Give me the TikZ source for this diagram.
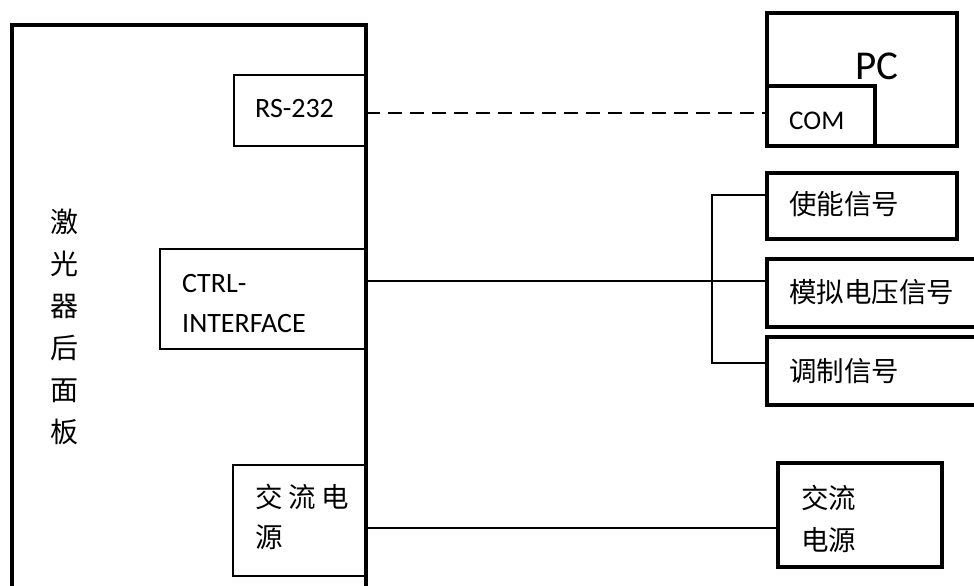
\documentclass[tikz,border=0pt]{standalone}
\usepackage{fontspec}
\setmainfont{Carlito}
\newfontfamily\cjk{Noto Sans CJK SC}
\begin{document}
\begin{tikzpicture}[x=1pt,y=-1pt,
  thickbox/.style={draw, line width=3.5pt, inner sep=0pt, outer sep=0pt, anchor=north west},
  thinbox/.style={draw, line width=2pt, inner sep=0pt, outer sep=0pt, anchor=north west},
  lbl/.style={font=\fontsize{28}{34}\selectfont, inner sep=0pt, anchor=base west},
  cjklbl/.style={font=\fontsize{27.5}{34}\selectfont\cjk, inner sep=0pt, anchor=west},
  wire/.style={line width=2pt},
  dashwire/.style={line width=2pt, dash pattern=on 14pt off 8pt}]
\useasboundingbox (0,0) rectangle (974,586);
\fill[white] (0,0) rectangle (974,586);

% inner ports of the laser back panel
\node[thinbox, minimum width=132pt, minimum height=71pt] (rs) at (234,75) {};
\node[thinbox, minimum width=206pt, minimum height=100pt] (ctrl) at (160,249) {};
\node[thinbox, minimum width=133pt, minimum height=111pt] (ac) at (233,465) {};

% laser back panel (open at the bottom edge)
\coordinate (pbl) at (12,600);
\coordinate (ptl) at (12,25);
\coordinate (ptr) at (366,25);
\coordinate (pbr) at (366,600);
\draw[line width=4pt, line join=miter] (pbl) -- (ptl) -- (ptr) -- (pbr);
\node[font=\fontsize{28}{42}\selectfont\cjk, align=center, inner sep=0pt] (panel) at (64,327) {激\\光\\器\\后\\面\\板};

% PC
\node[thickbox, minimum width=190pt, minimum height=133pt] (pc) at (767,13) {};
\node[thickbox, minimum width=108pt, minimum height=60pt] (com) at (767,86) {};
\node[font=\fontsize{41}{48}\selectfont, inner sep=0pt, anchor=base west] (pct) at (855,80) {PC};

% signal boxes (the two lower ones run past the right edge)
\node[thickbox, minimum width=190pt, minimum height=66pt] (en) at (767,173) {};
\node[thickbox, minimum width=225pt, minimum height=68pt] (ana) at (767,259) {};
\node[thickbox, minimum width=225pt, minimum height=68pt] (mod) at (767,337) {};
\node[thickbox, minimum width=164pt, minimum height=104pt] (ac2) at (778,463) {};

% texts
\node[lbl] (rst) at (255,117.3) {RS-232};
\node[lbl, font=\fontsize{27}{32}\selectfont] (comt) at (789,129.3) {COM};
\node[lbl] (ct1) at (182,292) {CTRL-};
\node[lbl] (ct2) at (182,332) {INTERFACE};
\node[cjklbl] (act1) at (255,497) {交\hspace{5.5pt}流\hspace{5.5pt}电};
\node[cjklbl] (act2) at (255,537) {源};
\node[cjklbl] (ent) at (789,204) {使能信号};
\node[cjklbl] (anat) at (789,292.5) {模拟电压信号};
\node[cjklbl] (modt) at (789,371) {调制信号};
\node[cjklbl] (ac2t1) at (801,498) {交流};
\node[cjklbl] (ac2t2) at (801,540) {电源};

% connectors
\coordinate (dy) at (0,113);
\draw[dashwire] (rs.east |- dy) -- (com.west |- dy);
\coordinate (cy) at (0,281);
\draw[wire] (ctrl.east |- cy) -- (ana.west |- cy);
\coordinate (bt) at (712,195);
\coordinate (bb) at (712,363);
\draw[wire] (en.west |- bt) -- (bt) -- (bb) -- (mod.west |- bb);
\coordinate (ay) at (0,528);
\draw[line width=2.3pt] (ac.east |- ay) -- (ac2.west |- ay);
\end{tikzpicture}
\end{document}
